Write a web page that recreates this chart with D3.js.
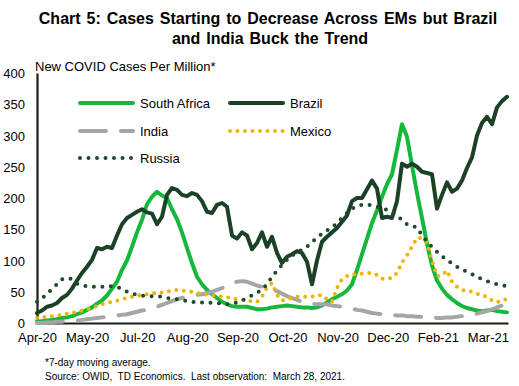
<!DOCTYPE html>
<html lang="en">
<head>
<meta charset="UTF-8">
<title>Chart 5: Cases Starting to Decrease Across EMs</title>
<script src="https://d3js.org/d3.v7.min.js"></script>
<style>
  body { margin: 0; background: #fff; }
  svg text { font-family: Arial, "Liberation Sans", sans-serif; fill: #000; }
</style>
</head>
<body>
<svg></svg>
<script>
// x labels (one every ~10 samples)
const xLabels = ["Apr-20", "May-20", "Jul-20", "Aug-20", "Sep-20", "Oct-20", "Nov-20", "Dec-20", "Feb-21", "Mar-21"];
const yTicks = [0, 50, 100, 150, 200, 250, 300, 350, 400];

// new cases per million, 7-day avg (evenly spaced samples)
const southAfrica = [
  2, 3, 4, 5, 6, 8, 9, 11, 14, 17,
  21, 25, 31, 36, 44, 55, 66, 85, 100, 122,
  145, 165, 190, 202, 210, 204, 200, 182, 166, 145,
  120, 96, 74, 62, 53, 46, 40, 34, 30, 27,
  26, 26, 26, 24, 22, 22, 23, 25, 26, 27,
  28, 27, 26, 25, 25, 24, 25, 28, 33, 38,
  42, 46, 52, 62, 85, 110, 135, 160, 180, 202,
  222, 238, 277, 318, 298, 252, 208, 168, 127, 92,
  68, 55, 45, 38, 32, 27, 24, 22, 20, 19,
  20, 21, 19, 18, 17
];
const brazil = [
  16, 20, 26, 28, 32, 40, 45, 55, 68, 80,
  90, 101, 120, 118, 122, 120, 140, 158, 168, 173,
  178, 182, 177, 175, 158, 170, 205, 216, 213, 205,
  203, 208, 205, 195, 178, 176, 189, 192, 186, 140,
  135, 145, 140, 118, 128, 145, 122, 138, 112, 96,
  106, 110, 115, 112, 98, 62, 100, 130, 138, 145,
  152, 162, 172, 195, 200, 200, 214, 228, 215, 168,
  170, 168, 195, 255, 250, 255, 250, 242, 240, 238,
  183, 205, 225, 210, 215, 228, 248, 265, 300, 320,
  330, 318, 345, 355, 362
];
const india = [
  0, 0, 1, 1, 2, 2, 3, 4, 4, 5,
  6, 7, 8, 9, 10, 11, 12, 13, 14, 16,
  18, 20, 21, 23, 26, 29, 32, 35, 38, 40,
  42, 44, 45, 46, 48, 50, 53, 56, 60, 64,
  66, 67, 66, 63, 60, 58, 56, 54, 51, 47,
  43, 40, 37, 34, 32, 31, 30, 30, 30, 28,
  27, 26, 25, 23, 21, 20, 18, 16, 15, 14,
  13, 13, 12, 12, 11, 11, 10, 10, 9, 9,
  8, 8, 9, 9, 10, 11, 12, 13, 15, 17,
  19, 22, 25, 28, 30
];
const mexico = [
  8, 9, 10, 11, 12, 13, 15, 16, 18, 20,
  22, 24, 27, 30, 32, 34, 36, 38, 40, 42,
  44, 45, 46, 47, 48, 49, 50, 52, 53, 52,
  51, 50, 48, 47, 45, 44, 43, 42, 41, 40,
  38, 37, 36, 35, 34, 42, 57, 64, 45, 36,
  38, 40, 42, 42, 42, 42, 44, 45, 38, 34,
  56, 70, 75, 78, 78, 79, 80, 80, 77, 71,
  71, 72, 80, 97, 108, 122, 136, 136, 128, 100,
  75, 76, 84, 66, 58, 53, 51, 50, 47, 44,
  42, 36, 33, 37, 38
];
const russia = [
  34, 40, 46, 55, 62, 70, 72, 70, 63, 60,
  59, 58, 58, 58, 58, 59, 58, 54, 50, 47,
  45, 44, 43, 43, 43, 42, 40, 39, 38, 37,
  35, 34, 33, 33, 33, 32, 32, 31, 30, 31,
  33, 36, 40, 44, 48, 54, 62, 74, 84, 93,
  101, 108, 113, 117, 122, 130, 136, 143, 148, 153,
  160, 168, 176, 183, 187, 189, 190, 188, 186, 184,
  181, 177, 172, 165, 158, 155, 153, 140, 130, 122,
  114, 107, 101, 95, 90, 86, 82, 78, 74, 70,
  67, 64, 62, 60, 59
];

const width = 519, height = 386;
const svg = d3.select("svg").attr("width", width).attr("height", height);

const x = d3.scaleLinear().domain([0, 94.2]).range([37, 508]);
const y = d3.scaleLinear().domain([0, 400]).range([323, 73]);
const tickStep = 10.02;

// title
svg.append("text").attr("x", 268).attr("y", 24).attr("text-anchor", "middle")
  .style("font-size", "16px").style("font-weight", "bold").style("word-spacing", "1.5px")
  .text("Chart 5: Cases Starting to Decrease Across EMs but Brazil");
svg.append("text").attr("x", 270).attr("y", 44).attr("text-anchor", "middle")
  .style("font-size", "16px").style("font-weight", "bold").style("word-spacing", "1.5px")
  .text("and India Buck the Trend");

svg.append("text").attr("x", 35).attr("y", 71).style("font-size", "13px")
  .text("New COVID Cases Per Million*");

// axes
const yAxis = svg.append("g").attr("transform", "translate(37,0)")
  .call(d3.axisLeft(y).tickValues(yTicks).tickSize(0).tickPadding(12));
yAxis.selectAll("text").style("font-size", "13px").attr("dy", "0.35em");

const xAxis = svg.append("g").attr("transform", "translate(0,323)")
  .call(d3.axisBottom(x)
    .tickValues(xLabels.map((d, i) => i * tickStep))
    .tickFormat((d, i) => xLabels[i])
    .tickSize(0).tickPadding(10));
xAxis.selectAll("text").style("font-size", "13px");

svg.selectAll(".domain").attr("stroke", "#1d1d10").attr("stroke-width", 2.2);

// series
const series = [
  {name: "South Africa", values: southAfrica, color: "#16b83c", width: 4, dash: null},
  {name: "Brazil", values: brazil, color: "#1b4226", width: 4, dash: null},
  {name: "India", values: india, color: "#a5a5a5", width: 4, dash: "26 15"},
  {name: "Mexico", values: mexico, color: "#f0b400", width: 4, dash: "0 7.5"},
  {name: "Russia", values: russia, color: "#1d4a2a", width: 4, dash: "0 8.5"}
];

const line = d3.line().x((d, i) => x(i)).y(d => y(d));

svg.append("g").selectAll("path")
  .data(series)
  .join("path")
  .attr("d", d => line(d.values))
  .attr("fill", "none")
  .attr("stroke", d => d.color)
  .attr("stroke-width", d => d.width)
  .attr("stroke-linecap", "round")
  .attr("stroke-linejoin", "round")
  .attr("stroke-dasharray", d => d.dash);

// legend
const legendPos = [[80, 103], [230, 103], [80, 131], [230, 131], [80, 158]];
const legend = svg.append("g").selectAll("g")
  .data(series)
  .join("g")
  .attr("transform", (d, i) => `translate(${legendPos[i][0]},${legendPos[i][1]})`);
legend.append("line")
  .attr("x1", 0).attr("x2", 53).attr("y1", 0).attr("y2", 0)
  .attr("stroke", d => d.color)
  .attr("stroke-width", d => d.width)
  .attr("stroke-linecap", "round")
  .attr("stroke-dasharray", d => d.dash);
legend.append("text")
  .attr("x", 60).attr("y", 5)
  .style("font-size", "13px")
  .text(d => d.name);

// footnotes
svg.append("text").attr("x", 45).attr("y", 366).style("font-size", "10px")
  .text("*7-day moving average.");
svg.append("text").attr("x", 45).attr("y", 380).style("font-size", "10px")
  .style("white-space", "pre")
  .text("Source: OWID,  TD Economics.  Last observation:  March 28, 2021.");
</script>
</body>
</html>
